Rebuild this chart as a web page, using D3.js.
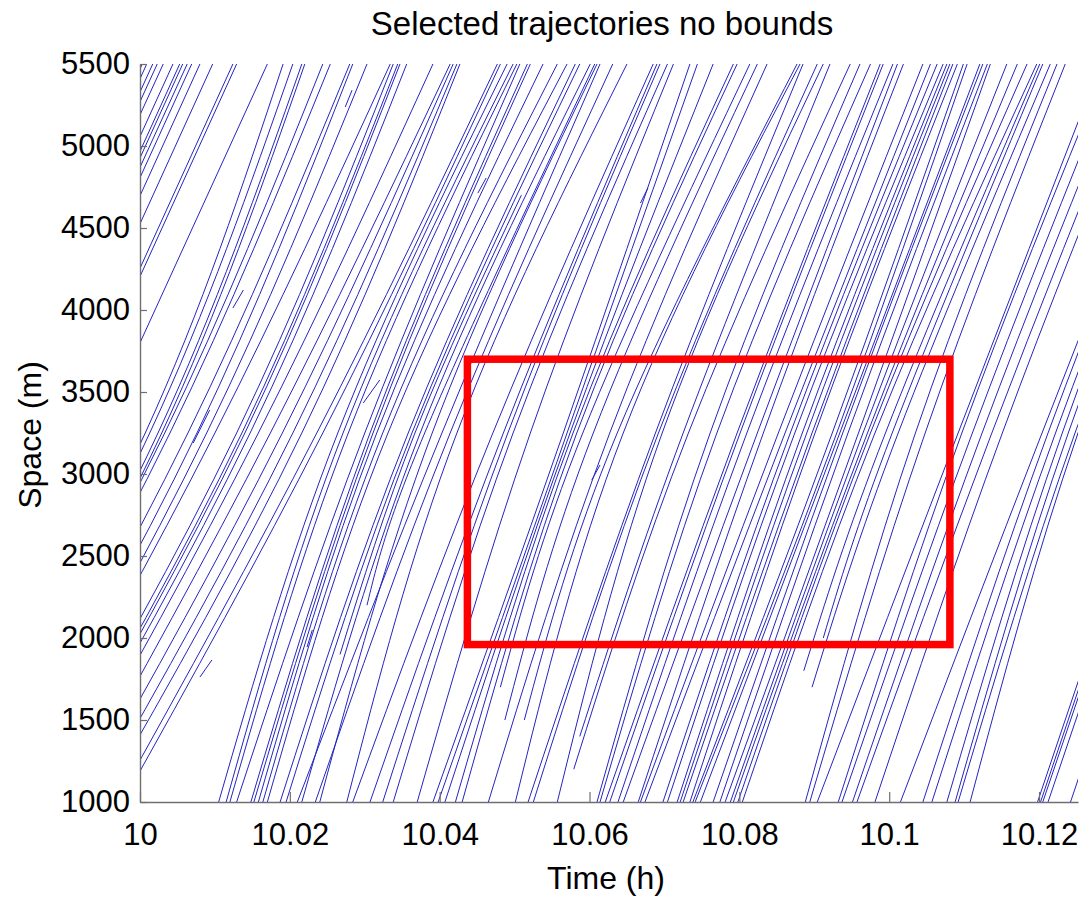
<!DOCTYPE html>
<html>
<head>
<meta charset="utf-8">
<script src="https://cdn.jsdelivr.net/npm/d3@7"></script>
<style>
  html, body { margin: 0; padding: 0; background: #fff; }
  svg { display: block; font-family: "Liberation Sans", Arial, Helvetica, sans-serif; }
</style>
</head>
<body>
<svg id="chart" width="1085" height="903"></svg>
<script>
// Axis ticks
const xTickValues = [10, 10.02, 10.04, 10.06, 10.08, 10.1, 10.12];
const yTickValues = [1000, 1500, 2000, 2500, 3000, 3500, 4000, 4500, 5000, 5500];

// Space positions (m) at which each trajectory's time is listed
const spaceLevels = [1000, 3250, 5500];

// Time (h) at which each vehicle passes 1000 m, 3250 m and 5500 m (null = not recorded there)
const crossingTimes = [
  [null, 9.9778, 10.0003], [null, 9.9785, 10.0009], [null, 9.9793, 10.0017], [null, 9.9798, 10.0023],
  [null, 9.9806, 10.0031], [null, 9.9820, 10.0044], [null, 9.9829, 10.0053], [null, 9.9833, 10.0057],
  [null, 9.9838, 10.0063], [null, 9.9845, 10.0069], [null, 9.9856, 10.0080], [null, 9.9873, 10.0097],
  [null, 9.9900, 10.0124], [null, 9.9905, 10.0129], [null, 9.9945, 10.0170],
  [9.9740, 10.0007, 10.0191], [9.9746, 10.0013, 10.0204], [9.9757, 10.0024, 10.0216], [9.9762, 10.0029, 10.0220],
  [9.9766, 10.0033, 10.0244], [9.9773, 10.0040, 10.0254], [9.9797, 10.0064, 10.0280], [9.9809, 10.0076, 10.0284],
  [9.9822, 10.0089, 10.0303], [9.9833, 10.0100, 10.0334], [9.9862, 10.0129, 10.0338], [9.9869, 10.0136, 10.0344],
  [9.9873, 10.0140, 10.0347], [9.9880, 10.0147, 10.0356], [9.9891, 10.0158, 10.0391], [9.9907, 10.0174, 10.0414],
  [9.9923, 10.0190, 10.0418], [9.9937, 10.0204, 10.0423], [9.9949, 10.0216, 10.0427], [9.9969, 10.0236, 10.0477],
  [9.9977, 10.0244, 10.0481],
  [10.0105, 10.0264, 10.0490], [10.0115, 10.0271, 10.0498], [10.0120, 10.0278, 10.0503], [10.0129, 10.0300, 10.0507],
  [10.0148, 10.0307, 10.0517], [10.0152, 10.0311, 10.0521], [10.0158, 10.0316, 10.0538], [10.0164, 10.0324, 10.0557],
  [10.0170, 10.0331, 10.0570], [10.0187, 10.0358, 10.0581], [10.0195, 10.0363, 10.0587], [10.0216, 10.0374, 10.0601],
  [10.0240, 10.0390, 10.0610], [10.0210, 10.0403, 10.0614], [10.0234, 10.0414, 10.0631], [10.0276, 10.0423, 10.0650],
  [10.0284, 10.0471, 10.0685], [10.0307, 10.0485, 10.0690], [10.0324, 10.0491, 10.0694], [10.0338, 10.0498, 10.0704],
  [10.0370, 10.0521, 10.0712], [10.0391, 10.0565, 10.0734], [10.0398, 10.0570, 10.0744], [10.0407, 10.0574, 10.0765],
  [10.0421, 10.0578, 10.0792], [10.0430, 10.0583, 10.0797], [10.0465, 10.0627, 10.0837], [10.0501, 10.0645, 10.0881],
  [10.0518, 10.0688, 10.0885], [10.0525, 10.0692, 10.0904], [10.0557, 10.0697, 10.0912], [10.0610, 10.0761, 10.0961],
  [10.0614, 10.0770, 10.0975], [10.0621, 10.0797, 10.0988], [10.0627, 10.0801, 10.0992], [10.0638, 10.0810, 10.1005],
  [10.0645, 10.0824, 10.1011], [10.0665, 10.0832, 10.1019], [10.0668, 10.0852, 10.1045], [10.0674, 10.0861, 10.1055],
  [10.0698, 10.0868, 10.1064], [10.0704, 10.0874, 10.1072], [10.0717, 10.0884, 10.1077], [10.0721, 10.0890, 10.1081],
  [10.0725, 10.0897, 10.1085], [10.0734, 10.0901, 10.1091], [10.0738, 10.0924, 10.1099], [10.0741, 10.0930, 10.1104],
  [10.0748, 10.0934, 10.1121], [10.0765, 10.0938, 10.1125], [10.0774, 10.0945, 10.1131], [10.0781, 10.0959, 10.1135],
  [10.0788, 10.0965, 10.1157], [10.0792, 10.0971, 10.1171], [10.0798, 10.0975, 10.1184], [10.0804, 10.0981, 10.1197],
  [10.0888, 10.1035, 10.1224], [10.0894, 10.1048, 10.1235], [10.0904, 10.1092, 10.1282], [10.0932, 10.1097, 10.1291],
  [10.0937, 10.1111, 10.1304], [10.0951, 10.1124, 10.1318], [10.0957, 10.1137, 10.1331], [10.0981, 10.1151, 10.1344],
  [10.1015, 10.1204, 10.1398], [10.1045, 10.1212, 10.1406], [10.1057, 10.1222, 10.1415], [10.1077, 10.1231, 10.1424],
  [10.1088, 10.1239, 10.1432], [10.1092, 10.1248, 10.1442], [10.1108, 10.1252, 10.1446],
  [10.1198, 10.1364, null], [10.1202, 10.1368, null], [10.1205, 10.1372, null], [10.1212, 10.1379, null],
  [10.1242, 10.1408, null]
];

// Trajectories recorded over only part of the section: [time (h), space (m)] points
const partialTrajectories = [
  [[10.0267, 1900], [10.0367, 3250], [10.0509, 4700]],
  [[10.0303, 2200], [10.0380, 3250], [10.0607, 5500]],
  [[10.0481, 1700], [10.0591, 3250], [10.0814, 5500]],
  [[10.0487, 1500], [10.0605, 3250], [10.0824, 5500]],
  [[10.0513, 1500], [10.0637, 3250], [10.0877, 5500]],
  [[10.0587, 1400], [10.0725, 3250], [10.0921, 5500]],
  [[10.0579, 1200], [10.0732, 3250], [10.0948, 5500]],
  [[10.0886, 1800], [10.0995, 3250], [10.1201, 5500]],
  [[10.0912, 2000], [10.1004, 3250], [10.1205, 5500]],
  [[10.0897, 1700], [10.1012, 3250], [10.1215, 5500]]
];

// Short trajectory pieces
const fragments = [
  [[10.0274, 5238], [10.0283, 5340]],
  [[10.0071, 3189], [10.0093, 3390]],
  [[10.0124, 4012], [10.0138, 4122]],
  [[10.0298, 3433], [10.0320, 3573]],
  [[10.0223, 1945], [10.0230, 2049]],
  [[10.0451, 4713], [10.0462, 4805]],
  [[10.0668, 4652], [10.0678, 4744]],
  [[10.0603, 2963], [10.0614, 3055]],
  [[10.0080, 1762], [10.0096, 1866]]
];

// Highlighted selection window
const selectionTimes = [10.0437, 10.1081];
const selectionSpace = [1960, 3700];

const svg = d3.select("#chart");
const plotLeft = 140, plotRight = 1078, plotTop = 64, plotBottom = 802;

const x = d3.scaleLinear().domain([10, 10.1252]).range([plotLeft, plotRight]);
const y = d3.scaleLinear().domain([1000, 5500]).range([plotBottom, plotTop]);

svg.append("defs").append("clipPath").attr("id", "plotArea")
  .append("rect")
  .attr("x", plotLeft).attr("y", plotTop)
  .attr("width", plotRight - plotLeft).attr("height", plotBottom - plotTop);

// Smooth curve through the recorded passage points
const line = d3.line()
  .x(d => x(d[0]))
  .y(d => y(d[1]))
  .curve(d3.curveNatural);

const rows = crossingTimes.map(r =>
  r.map((t, i) => (t == null ? null : [t, spaceLevels[i]])).filter(p => p)
);
const allTrajectories = rows.concat(partialTrajectories, fragments);

svg.append("g")
  .attr("clip-path", "url(#plotArea)")
  .selectAll("path")
  .data(allTrajectories)
  .join("path")
  .attr("d", line)
  .attr("fill", "none")
  .attr("stroke", "#2424c0")
  .attr("stroke-width", 1);

// Axes (ticks point inward, no box)
const fmtX = d => String(+d.toFixed(2));
const xAxis = d3.axisBottom(x).tickValues(xTickValues).tickFormat(fmtX)
  .tickSizeInner(-10).tickSizeOuter(0).tickPadding(21);
const yAxis = d3.axisLeft(y).tickValues(yTickValues).tickFormat(d3.format("d"))
  .tickSizeInner(-7).tickSizeOuter(0).tickPadding(10);

const gx = svg.append("g").attr("transform", `translate(0,${plotBottom})`).call(xAxis);
const gy = svg.append("g").attr("transform", `translate(${plotLeft},0)`).call(yAxis);

[gx, gy].forEach(g => {
  g.select(".domain").attr("stroke", "#6f6f6f").attr("stroke-width", 1.4);
  g.selectAll(".tick line").attr("stroke", "#6f6f6f").attr("stroke-width", 1.2);
  g.selectAll(".tick text")
    .attr("fill", "#000")
    .style("font-size", "31px")
    .style("font-family", "'Liberation Sans', Arial, sans-serif");
});

// Selection rectangle
svg.append("rect")
  .attr("x", x(selectionTimes[0]))
  .attr("y", y(selectionSpace[1]))
  .attr("width", x(selectionTimes[1]) - x(selectionTimes[0]))
  .attr("height", y(selectionSpace[0]) - y(selectionSpace[1]))
  .attr("fill", "none")
  .attr("stroke", "#ff0000")
  .attr("stroke-width", 7.5);

// Titles
svg.append("text")
  .attr("x", 602).attr("y", 35)
  .attr("text-anchor", "middle")
  .style("font-size", "33px")
  .text("Selected trajectories no bounds");

svg.append("text")
  .attr("x", 606).attr("y", 889)
  .attr("text-anchor", "middle")
  .style("font-size", "32px")
  .text("Time (h)");

svg.append("text")
  .attr("transform", "translate(41,435) rotate(-90)")
  .attr("text-anchor", "middle")
  .style("font-size", "32px")
  .text("Space (m)");
</script>
</body>
</html>
